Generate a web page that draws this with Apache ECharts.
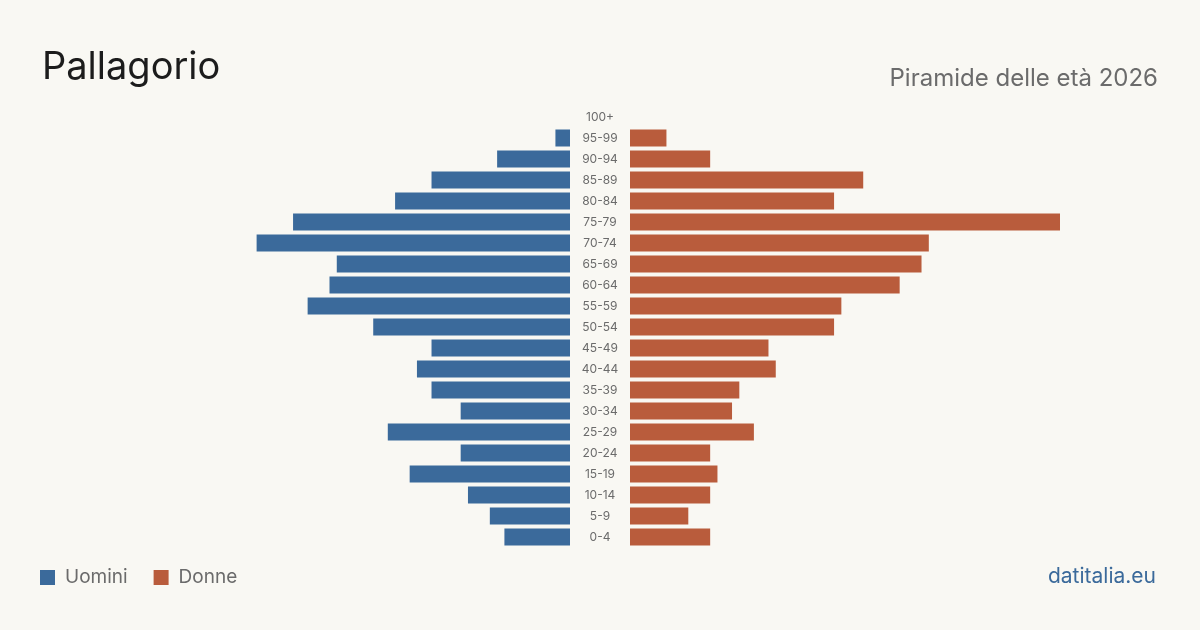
<!DOCTYPE html>
<html>
<head>
<meta charset="utf-8">
<script src="https://cdn.jsdelivr.net/npm/echarts@6/dist/echarts.min.js"></script>
<style>
  html, body { margin: 0; padding: 0; background: #f9f8f3; }
  #chart { width: 1200px; height: 630px; }
</style>
</head>
<body>
<div id="chart"></div>
<script>
// fasce d'età, dall'alto verso il basso
const ageGroups = ['100+', '95-99', '90-94', '85-89', '80-84', '75-79', '70-74', '65-69', '60-64', '55-59',
  '50-54', '45-49', '40-44', '35-39', '30-34', '25-29', '20-24', '15-19', '10-14', '5-9', '0-4']
const men = [0, 2, 10, 19, 24, 38, 43, 32, 33, 36, 27, 19, 21, 19, 15, 25, 15, 22, 14, 11, 9]
const women = [0, 5, 11, 32, 28, 59, 41, 40, 37, 29, 28, 19, 20, 15, 14, 17, 11, 12, 11, 8, 11]
const axisMax = 59

const blue = '#3b6a9b'
const red = '#b95c3c'
const font = 'Inter, "Noto Sans", sans-serif'

const chart = echarts.init(document.getElementById('chart'))

const hiddenValueAxis = (gridIndex, inverse) => ({
  type: 'value',
  gridIndex,
  inverse,
  min: 0,
  max: axisMax,
  show: false
})

chart.setOption({
  backgroundColor: '#f9f8f3',
  animation: false,
  title: [
    {
      text: 'Pallagorio',
      left: 37,
      top: 44,
      textStyle: { fontFamily: font, fontSize: 38, fontWeight: 400, color: '#1c1c1c' }
    },
    {
      text: 'Piramide delle età 2026',
      right: 37,
      top: 62,
      textStyle: { fontFamily: font, fontSize: 24, fontWeight: 400, color: '#6b6b6b' }
    },
    {
      text: 'datitalia.eu',
      right: 39,
      top: 561,
      textStyle: { fontFamily: font, fontSize: 21, fontWeight: 400, color: '#3b6a9b' }
    }
  ],
  legend: {
    left: 35,
    top: 563,
    icon: 'rect',
    itemWidth: 15,
    itemHeight: 15,
    itemGap: 26,
    textStyle: { fontFamily: font, fontSize: 19, color: '#6b6b6b', padding: [0, 0, 0, 5] },
    data: ['Uomini', 'Donne']
  },
  grid: [
    { left: 140, width: 430, top: 106.5, height: 441 },
    { left: 630, width: 430, top: 106.5, height: 441 }
  ],
  xAxis: [hiddenValueAxis(0, true), hiddenValueAxis(1, false)],
  yAxis: [
    {
      type: 'category',
      gridIndex: 0,
      position: 'right',
      inverse: true,
      data: ageGroups,
      axisLine: { show: false },
      axisTick: { show: false },
      axisLabel: {
        align: 'center',
        margin: 30,
        fontFamily: font,
        fontSize: 12,
        color: '#6b6b6b'
      }
    },
    {
      type: 'category',
      gridIndex: 1,
      inverse: true,
      data: ageGroups,
      show: false
    }
  ],
  series: [
    {
      name: 'Uomini',
      type: 'bar',
      xAxisIndex: 0,
      yAxisIndex: 0,
      barWidth: 17,
      itemStyle: { color: blue },
      data: men
    },
    {
      name: 'Donne',
      type: 'bar',
      xAxisIndex: 1,
      yAxisIndex: 1,
      barWidth: 17,
      itemStyle: { color: red },
      data: women
    }
  ]
})
</script>
</body>
</html>
